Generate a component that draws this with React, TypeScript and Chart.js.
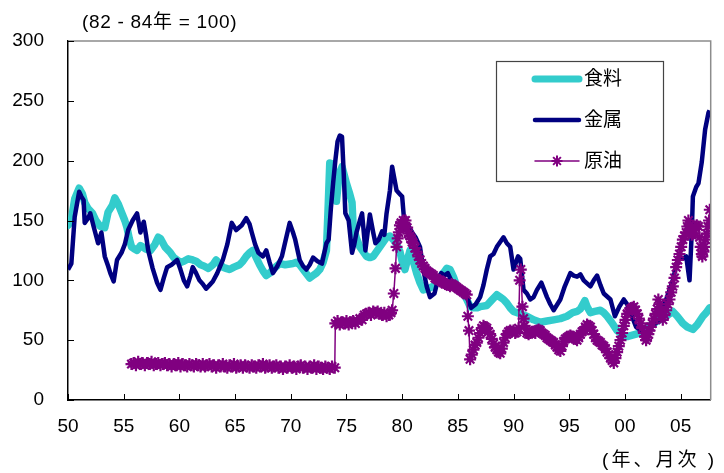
import { useEffect, useRef } from "react";
import { Chart, registerables } from "chart.js";

Chart.register(...registerables);

const FONT = "'Liberation Sans', Arial, 'Noto Sans CJK JP', sans-serif";
const FOOD_COLOR = "#33CCCC";
const METAL_COLOR = "#000080";
const OIL_COLOR = "#800080";

const yearTicks = [1950, 1955, 1960, 1965, 1970, 1975, 1980, 1985, 1990, 1995, 2000, 2005];
const valueTicks = [0, 50, 100, 150, 200, 250, 300];
const titleText = "(82 - 84年 = 100)";
const unitText = "(年、月次 )";
const seriesNames = ["食料", "金属", "原油"];

// 食料
const foodYears = [
  1950.0, 1950.3, 1950.6, 1951.0, 1951.3, 1951.5, 1951.8, 1952.2, 1952.5, 1952.9,
  1953.3, 1953.6, 1954.0, 1954.2, 1954.5, 1954.8, 1955.1, 1955.3, 1955.5, 1955.7,
  1956.0, 1956.2, 1956.5, 1956.7, 1957.0, 1957.4, 1957.8, 1958.1, 1958.3, 1958.7,
  1959.0, 1959.2, 1959.5, 1959.8, 1960.1, 1960.4, 1960.8, 1961.2, 1961.5, 1961.9,
  1962.2, 1962.6, 1963.0, 1963.3, 1963.6, 1963.9, 1964.2, 1964.5, 1964.9, 1965.4,
  1965.7, 1966.0, 1966.3, 1966.6, 1966.9, 1967.2, 1967.5, 1967.8, 1968.1, 1968.5,
  1969.0, 1969.5, 1970.2, 1970.5, 1970.8, 1971.2, 1971.7, 1972.0, 1972.3, 1972.6,
  1972.9, 1973.2, 1973.35, 1973.5, 1973.8, 1974.0, 1974.1, 1974.3, 1974.6, 1974.8,
  1975.0, 1975.3, 1975.5, 1975.6, 1975.9, 1976.2, 1976.5, 1976.8, 1977.1, 1977.4,
  1977.7, 1978.0, 1978.3, 1978.6, 1978.9, 1979.2, 1979.5, 1979.8, 1980.0, 1980.25,
  1980.5, 1980.7, 1981.0, 1981.3, 1981.6, 1981.9, 1982.3, 1982.8, 1983.2, 1983.7,
  1984.0, 1984.3, 1984.6, 1984.9, 1985.2, 1985.5, 1985.8, 1986.1, 1986.4, 1986.7,
  1987.0, 1987.6, 1988.0, 1988.5, 1988.8, 1989.1, 1989.4, 1989.7, 1990.0, 1990.6,
  1991.2, 1991.8, 1992.4, 1993.0, 1993.6, 1994.2, 1994.8, 1995.3, 1995.7, 1996.0,
  1996.4, 1996.6, 1996.9, 1997.3, 1997.8, 1998.1, 1998.4, 1998.8, 1999.3, 1999.7,
  2000.2, 2000.6, 2001.0, 2001.4, 2001.9, 2002.4, 2003.1, 2003.7, 2004.3, 2004.7,
  2005.2, 2005.6, 2006.1, 2006.5, 2007.0, 2007.3, 2007.6,
];
const foodValues = [
  146, 150, 168, 177, 172, 165, 160, 156, 150, 145,
  144, 157, 163, 169, 164, 157, 150, 144, 135, 128,
  126, 125, 129, 128, 126, 125, 130, 136, 135, 128,
  125, 123, 119, 117, 115, 116, 118, 117, 116, 113,
  112, 110, 113, 117, 114, 111, 110, 109, 111, 113,
  116, 120, 123, 125, 119, 113, 108, 104, 106, 110,
  114, 113, 114, 115, 113, 108, 102, 104, 106, 109,
  115, 125, 160, 198, 197, 180, 166, 185, 195, 188,
  181, 172, 165, 145, 135, 128, 124, 120, 119, 120,
  124, 128, 132, 136, 137, 134, 130, 124, 116, 109,
  118, 125, 116, 106, 98, 92, 93, 95, 100, 106,
  110, 109, 103, 95, 92, 89, 84, 78, 77, 77,
  78, 79, 83, 88, 86, 84, 81, 77, 74, 72,
  70, 67, 65, 66, 67, 68, 70, 73, 74, 76,
  83, 78, 73, 74, 75, 73, 70, 65, 58, 55,
  53, 54, 55, 56, 60, 63, 67, 70, 74, 70,
  64, 61, 59, 63, 70, 73, 77,
];

// 金属
const metalYears = [
  1950.0, 1950.3, 1950.6, 1951.0, 1951.2, 1951.4, 1951.5, 1951.8, 1952.0, 1952.3,
  1952.7, 1953.0, 1953.3, 1953.6, 1953.8, 1954.1, 1954.4, 1954.8, 1955.1, 1955.4,
  1955.8, 1956.2, 1956.5, 1956.8, 1957.0, 1957.2, 1957.6, 1958.0, 1958.3, 1958.6,
  1958.9, 1959.3, 1959.8, 1960.1, 1960.4, 1960.7, 1961.0, 1961.2, 1961.5, 1961.8,
  1962.1, 1962.4, 1962.7, 1963.0, 1963.4, 1963.9, 1964.3, 1964.7, 1965.1, 1965.6,
  1966.0, 1966.3, 1966.5, 1966.8, 1967.1, 1967.5, 1967.8, 1968.1, 1968.4, 1968.8,
  1969.2, 1969.5, 1969.9, 1970.2, 1970.4, 1970.8, 1971.1, 1971.4, 1971.7, 1972.0,
  1972.4, 1972.8, 1973.2, 1973.4, 1973.6, 1973.8, 1974.0, 1974.2, 1974.4, 1974.6,
  1974.75, 1974.9, 1975.2, 1975.5, 1975.7, 1975.9, 1976.2, 1976.4, 1976.7, 1976.9,
  1977.1, 1977.4, 1977.6, 1977.9, 1978.2, 1978.4, 1978.6, 1978.9, 1979.1, 1979.3,
  1979.5, 1979.8, 1980.0, 1980.25, 1980.6, 1980.9, 1981.2, 1981.6, 1981.9, 1982.2,
  1982.5, 1982.9, 1983.2, 1983.5, 1983.8, 1984.1, 1984.5, 1984.9, 1985.3, 1985.8,
  1986.2, 1986.6, 1987.0, 1987.3, 1987.6, 1987.9, 1988.2, 1988.5, 1988.8, 1989.1,
  1989.4, 1989.7, 1990.0, 1990.4, 1990.6, 1990.9, 1991.2, 1991.5, 1991.8, 1992.1,
  1992.5, 1993.0, 1993.3, 1993.6, 1994.2, 1994.6, 1995.1, 1995.4, 1995.7, 1996.0,
  1996.3, 1996.9, 1997.2, 1997.5, 1997.8, 1998.1, 1998.7, 1999.1, 1999.5, 1999.9,
  2000.2, 2000.5, 2001.0, 2001.5, 2001.9, 2002.5, 2003.1, 2003.4, 2003.7, 2004.0,
  2004.3, 2004.6, 2004.9, 2005.2, 2005.5, 2005.8, 2006.0, 2006.1, 2006.4, 2006.6,
  2006.9, 2007.2, 2007.5, 2007.6,
];
const metalValues = [
  109, 114, 153, 174, 170, 167, 148, 152, 156, 145,
  131, 140, 120, 112, 106, 99, 117, 123, 130, 142,
  150, 156, 140, 149, 138, 125, 110, 98, 92, 102,
  111, 113, 117, 109, 100, 95, 104, 111, 106, 100,
  97, 93, 96, 99, 106, 117, 130, 148, 142, 146,
  152, 147, 140, 130, 123, 120, 125, 115, 106, 112,
  120, 132, 148, 140, 134, 117, 112, 109, 113, 119,
  116, 114, 131, 134, 160, 181, 200, 216, 221, 220,
  190, 156, 150, 123, 130, 140, 150, 156, 125, 140,
  155, 140, 131, 134, 141, 138, 156, 175, 195, 185,
  175, 172, 170, 142, 145, 140, 136, 128, 109, 95,
  86, 89, 100, 106, 104, 106, 98, 92, 90, 86,
  77, 80, 86, 96, 109, 120, 122, 128, 132, 136,
  131, 128, 109, 120, 118, 92, 89, 84, 86, 92,
  98, 86, 80, 75, 84, 95, 106, 104, 103, 105,
  100, 95, 100, 104, 96, 89, 84, 70, 78, 84,
  80, 73, 61, 58, 56, 62, 67, 75, 84, 92,
  100, 112, 120, 118, 120, 100, 140, 170, 178, 181,
  199, 226, 240, 242,
];

// 原油
const oilYears = [
  1955.7, 1955.9, 1956.1, 1956.3, 1956.5, 1956.7, 1956.9, 1957.1, 1957.3, 1957.5,
  1957.7, 1957.9, 1958.1, 1958.3, 1958.5, 1958.7, 1958.9, 1959.1, 1959.3, 1959.5,
  1959.7, 1959.9, 1960.1, 1960.3, 1960.5, 1960.7, 1960.9, 1961.1, 1961.3, 1961.5,
  1961.7, 1961.9, 1962.1, 1962.3, 1962.5, 1962.7, 1962.9, 1963.1, 1963.3, 1963.5,
  1963.7, 1963.9, 1964.1, 1964.3, 1964.5, 1964.7, 1964.9, 1965.1, 1965.3, 1965.5,
  1965.7, 1965.9, 1966.1, 1966.3, 1966.5, 1966.7, 1966.9, 1967.1, 1967.3, 1967.5,
  1967.7, 1967.9, 1968.1, 1968.3, 1968.5, 1968.7, 1968.9, 1969.1, 1969.3, 1969.5,
  1969.7, 1969.9, 1970.1, 1970.3, 1970.5, 1970.7, 1970.9, 1971.1, 1971.3, 1971.5,
  1971.7, 1971.9, 1972.1, 1972.3, 1972.5, 1972.7, 1972.9, 1973.1, 1973.3, 1973.5,
  1973.7, 1973.95,
  1974.0, 1974.2, 1974.4, 1974.6, 1974.8, 1975.0, 1975.2, 1975.4, 1975.6, 1975.8,
  1976.0, 1976.2, 1976.4, 1976.6, 1976.8, 1977.0, 1977.2, 1977.4, 1977.6, 1977.8,
  1978.0, 1978.2, 1978.4, 1978.6, 1978.8, 1979.0, 1979.1, 1979.25, 1979.4, 1979.5,
  1979.6, 1979.7, 1979.8, 1979.9, 1980.0, 1980.1, 1980.2, 1980.3, 1980.45, 1980.55,
  1980.7, 1980.8, 1980.9, 1981.0, 1981.15, 1981.3, 1981.45, 1981.6, 1981.75, 1981.9,
  1982.05, 1982.2, 1982.35, 1982.5, 1982.65, 1982.8, 1982.95, 1983.1, 1983.25, 1983.4,
  1983.55, 1983.7, 1983.85, 1984.0, 1984.15, 1984.3, 1984.45, 1984.6, 1984.75, 1984.9,
  1985.05, 1985.2, 1985.35, 1985.5, 1985.65, 1985.8, 1985.9, 1986.0, 1986.1, 1986.25,
  1986.4, 1986.55, 1986.7, 1986.85, 1987.0, 1987.15, 1987.3, 1987.45, 1987.6, 1987.75,
  1987.9, 1988.05, 1988.2, 1988.35, 1988.5, 1988.65, 1988.8, 1988.95, 1989.1, 1989.25,
  1989.4, 1989.55, 1989.7, 1989.85, 1990.0, 1990.15, 1990.3, 1990.45, 1990.55, 1990.65,
  1990.8, 1990.9, 1991.0, 1991.2, 1991.35, 1991.5, 1991.65, 1991.8, 1991.95, 1992.1,
  1992.25, 1992.4, 1992.55, 1992.7, 1992.85, 1993.0, 1993.15, 1993.3, 1993.45, 1993.6,
  1993.75, 1993.9, 1994.05, 1994.2, 1994.35, 1994.5, 1994.65, 1994.8, 1994.95, 1995.1,
  1995.25, 1995.4, 1995.55, 1995.7, 1995.85, 1996.0, 1996.15, 1996.3, 1996.45, 1996.6,
  1996.75, 1996.9, 1997.05, 1997.2, 1997.35, 1997.5, 1997.65, 1997.8, 1997.95, 1998.1,
  1998.25, 1998.4, 1998.55, 1998.7, 1998.85, 1999.0, 1999.15, 1999.3, 1999.45, 1999.6,
  1999.75, 1999.9, 2000.05, 2000.2, 2000.35, 2000.5, 2000.65, 2000.8, 2000.95, 2001.1,
  2001.25, 2001.4, 2001.55, 2001.7, 2001.8, 2001.9, 2002.0, 2002.1, 2002.2, 2002.3,
  2002.45, 2002.6, 2002.75, 2002.9, 2003.0, 2003.1, 2003.2, 2003.3, 2003.4, 2003.55,
  2003.7, 2003.85, 2004.0, 2004.15, 2004.3, 2004.45, 2004.6, 2004.75, 2004.9, 2005.05,
  2005.2, 2005.35, 2005.5, 2005.6, 2005.7, 2005.8, 2005.9, 2006.0, 2006.1, 2006.2,
  2006.3, 2006.45, 2006.6, 2006.7, 2006.8, 2006.9, 2006.95, 2007.05, 2007.15, 2007.25,
  2007.35, 2007.45, 2007.55, 2007.62,
];
const oilValues = [
  30, 31, 29, 32, 30, 31, 29, 31, 30, 32,
  29, 30, 31, 29, 30, 31, 29, 30, 28, 30,
  29, 31, 28, 30, 29, 28, 30, 29, 28, 30,
  29, 28, 30, 28, 29, 30, 28, 29, 27, 29,
  28, 30, 28, 27, 29, 28, 30, 27, 28, 29,
  27, 29, 28, 27, 29, 28, 27, 29, 28, 30,
  27, 28, 29, 27, 28, 29, 27, 28, 26, 28,
  27, 29, 27, 28, 26, 28, 29, 27, 28, 26,
  28, 27, 29, 26, 28, 27, 26, 28, 27, 26,
  28, 27,
  64, 66, 63, 65, 64, 66, 63, 65, 66, 64,
  66, 68, 67, 71, 72, 73, 71, 74, 73, 74,
  72, 71, 73, 70, 71, 73, 75, 89, 110, 128,
  135, 140, 146, 148, 145, 150, 148, 150, 144, 139,
  137, 135, 132, 131, 127, 124, 120, 117, 114, 112,
  110, 108, 107, 106, 105, 104, 102, 101, 100, 100,
  99, 98, 97, 97, 96, 95, 97, 96, 95, 94,
  93, 92, 91, 90, 89, 88, 70, 58, 34, 38,
  42, 46, 48, 52, 56, 60, 62, 61, 60, 57,
  55, 51, 47, 44, 42, 40, 39, 43, 48, 52,
  55, 57, 58, 57, 58, 56, 57, 60, 100, 109,
  78, 68, 62, 56, 55, 56, 57, 57, 56, 58,
  59, 58, 56, 55, 54, 52, 51, 50, 49, 48,
  46, 44, 42, 41, 45, 49, 51, 52, 53, 54,
  53, 52, 51, 50, 52, 55, 57, 58, 61, 63,
  62, 61, 58, 55, 52, 50, 49, 48, 46, 45,
  43, 40, 38, 35, 33, 31, 35, 40, 45, 50,
  56, 62, 67, 72, 74, 76, 77, 78, 75, 72,
  68, 64, 60, 56, 53, 50, 52, 55, 58, 61,
  64, 68, 72, 76, 84, 80, 75, 70, 67, 71,
  75, 80, 84, 90, 95, 102, 111, 117, 122, 128,
  134, 137, 140, 145, 150, 146, 140, 138, 139, 142,
  145, 146, 145, 136, 128, 122, 120, 124, 128, 134,
  139, 145, 150, 159,
];

const toPoints = (xs: number[], ys: number[]) => xs.map((x, i) => ({ x, y: ys[i] }));

function drawStar(ctx: CanvasRenderingContext2D, x: number, y: number, r: number) {
  ctx.beginPath();
  for (let k = 0; k < 4; k++) {
    const a = (k * Math.PI) / 4;
    ctx.moveTo(x - Math.cos(a) * r, y - Math.sin(a) * r);
    ctx.lineTo(x + Math.cos(a) * r, y + Math.sin(a) * r);
  }
  ctx.stroke();
}

// Frame, inward tick marks, headings and the boxed legend
const decorations = {
  id: "decorations",
  afterDraw(chart: any) {
    const { ctx, chartArea } = chart;
    const xs = chart.scales.x;
    const ys = chart.scales.y;
    ctx.save();

    // grey top / right frame
    ctx.strokeStyle = "#8c8c8c";
    ctx.lineWidth = 1.5;
    ctx.beginPath();
    ctx.moveTo(chartArea.left, chartArea.top);
    ctx.lineTo(chartArea.right, chartArea.top);
    ctx.lineTo(chartArea.right, chartArea.bottom);
    ctx.stroke();

    // inward ticks
    ctx.strokeStyle = "#000";
    ctx.lineWidth = 1;
    ctx.beginPath();
    xs.ticks.forEach((t: any) => {
      const px = Math.round(xs.getPixelForValue(t.value)) + 0.5;
      ctx.moveTo(px, chartArea.bottom);
      ctx.lineTo(px, chartArea.bottom - 6);
    });
    ys.ticks.forEach((t: any) => {
      const py = Math.round(ys.getPixelForValue(t.value)) + 0.5;
      ctx.moveTo(chartArea.left, py);
      ctx.lineTo(chartArea.left + 6, py);
    });
    ctx.stroke();

    ctx.fillStyle = "#000";
    ctx.font = `19px ${FONT}`;
    ctx.textBaseline = "middle";
    ctx.textAlign = "left";
    (ctx as any).letterSpacing = "0.7px";
    ctx.fillText(titleText, 82, 23);
    (ctx as any).letterSpacing = "3px";
    ctx.textAlign = "right";
    ctx.fillText(unitText, 717, 461);
    (ctx as any).letterSpacing = "0px";

    // legend box
    const bx = 496.5, by = 61.5, bw = 167, bh = 120;
    ctx.fillStyle = "#fff";
    ctx.fillRect(bx, by, bw, bh);
    ctx.strokeStyle = "#444";
    ctx.lineWidth = 1.2;
    ctx.strokeRect(bx, by, bw, bh);

    const rows = [79, 120, 161];
    const styles = [
      { color: FOOD_COLOR, width: 7 },
      { color: METAL_COLOR, width: 4.5 },
      { color: OIL_COLOR, width: 1.5 },
    ];
    rows.forEach((ry, i) => {
      ctx.strokeStyle = styles[i].color;
      ctx.lineWidth = styles[i].width;
      ctx.lineCap = "round";
      ctx.beginPath();
      ctx.moveTo(535, ry);
      ctx.lineTo(579, ry);
      ctx.stroke();
      if (i === 2) {
        ctx.lineWidth = 2;
        ctx.lineCap = "butt";
        drawStar(ctx, 557, ry, 5.5);
      }
      ctx.fillStyle = "#000";
      ctx.textAlign = "left";
      ctx.fillText(seriesNames[i], 584, ry + 1);
    });
    ctx.restore();
  },
};

export default function App() {
  const canvasRef = useRef<HTMLCanvasElement | null>(null);

  useEffect(() => {
    if (!canvasRef.current) return;
    const chart = new Chart(canvasRef.current, {
      type: "line",
      data: {
        datasets: [
          {
            label: seriesNames[0],
            data: toPoints(foodYears, foodValues),
            borderColor: FOOD_COLOR,
            borderWidth: 7.5,
            pointRadius: 0,
            tension: 0,
            borderJoinStyle: "round",
            borderCapStyle: "round",
            order: 3,
          },
          {
            label: seriesNames[1],
            data: toPoints(metalYears, metalValues),
            borderColor: METAL_COLOR,
            borderWidth: 4.5,
            pointRadius: 0,
            tension: 0,
            borderJoinStyle: "round",
            order: 2,
          },
          {
            label: seriesNames[2],
            data: toPoints(oilYears, oilValues),
            borderColor: OIL_COLOR,
            borderWidth: 1.5,
            pointStyle: "star",
            pointRadius: 6,
            pointBorderWidth: 2.2,
            pointBorderColor: OIL_COLOR,
            pointBackgroundColor: OIL_COLOR,
            tension: 0,
            order: 1,
          },
        ],
      },
      options: {
        animation: false,
        responsive: true,
        maintainAspectRatio: false,
        layout: { padding: { left: 0, top: 41, right: 13.3, bottom: 0 } },
        plugins: {
          legend: { display: false },
          tooltip: { enabled: false },
          title: { display: false },
        },
        scales: {
          x: {
            type: "linear",
            min: 1950,
            max: 2007.7,
            afterBuildTicks: (s: any) => {
              s.ticks = yearTicks.map((v) => ({ value: v }));
            },
            afterFit: (s: any) => {
              s.height = 73;
            },
            grid: { display: false, drawTicks: false },
            border: { display: true, color: "#000", width: 1.5 },
            ticks: {
              padding: 15,
              color: "#000",
              font: { family: FONT, size: 19 },
              maxRotation: 0,
              autoSkip: false,
              callback: (v: any) => String(Number(v) % 100).padStart(2, "0"),
            },
          },
          y: {
            min: 0,
            max: 300,
            afterBuildTicks: (s: any) => {
              s.ticks = valueTicks.map((v) => ({ value: v }));
            },
            afterFit: (s: any) => {
              s.width = 68;
            },
            grid: { display: false, drawTicks: false },
            border: { display: true, color: "#000", width: 1.5 },
            ticks: {
              padding: 24,
              color: "#000",
              font: { family: FONT, size: 19 },
              callback: (v: any) => String(v),
            },
          },
        },
      },
      plugins: [decorations],
    });
    return () => chart.destroy();
  }, []);

  return (
    <div style={{ position: "absolute", left: 0, top: 0, width: 724, height: 473, background: "#fff" }}>
      <canvas ref={canvasRef} />
    </div>
  );
}
